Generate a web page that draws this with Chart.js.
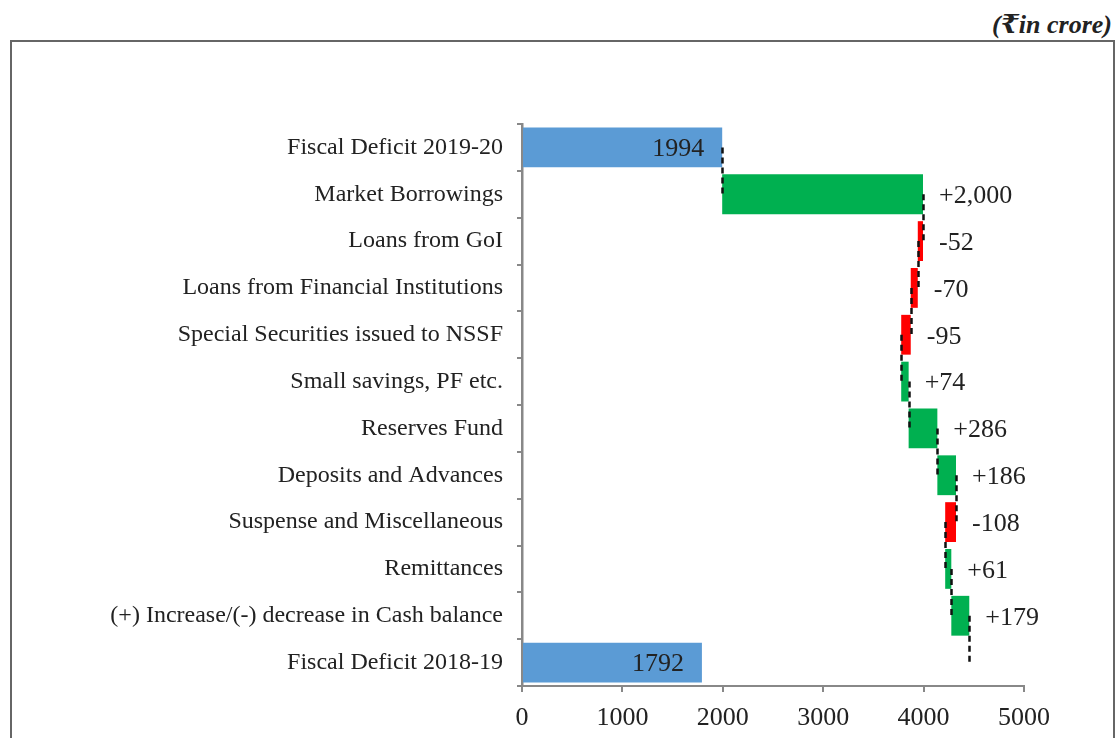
<!DOCTYPE html>
<html>
<head>
<meta charset="utf-8">
<script src="https://cdn.jsdelivr.net/npm/chart.js@4/dist/chart.umd.min.js"></script>
<style>
  html, body { margin: 0; padding: 0; background: #fff; }
  #wrap { position: relative; width: 1115px; height: 738px; overflow: hidden; }
  #frame { position: absolute; left: 10px; top: 40px; width: 1101px; height: 720px; border: 2px solid #666; box-sizing: content-box; }
  #unit { position: absolute; right: 3px; top: 10px; font-family: "Liberation Serif", "DejaVu Serif", serif; font-weight: bold; font-style: italic; font-size: 26px; line-height: 30px; color: #222; }
  canvas { position: absolute; left: 0; top: 0; }
</style>
</head>
<body>
<div id="wrap">
  <div id="frame"></div>
  <div id="unit">(₹in crore)</div>
  <canvas id="c" width="1115" height="738"></canvas>
</div>
<script>
// ---- data ----
const categories = [
  "Fiscal Deficit 2019-20",
  "Market Borrowings",
  "Loans from GoI",
  "Loans from Financial Institutions",
  "Special Securities issued to NSSF",
  "Small savings, PF etc.",
  "Reserves Fund",
  "Deposits and Advances",
  "Suspense and Miscellaneous",
  "Remittances",
  "(+) Increase/(-) decrease in Cash balance",
  "Fiscal Deficit 2018-19"
];
const startTotal = 1994;
const changes = [2000, -52, -70, -95, 74, 286, 186, -108, 61, 179];
const endTotal = 1792;
const xTicks = [0, 1000, 2000, 3000, 4000, 5000];

// ---- build floating bars ----
const totalColor = "#5B9BD5", upColor = "#00B050", downColor = "#FF0000";
const barData = [], barColors = [], barLabels = [], isTotal = [];
barData.push([0, startTotal]); barColors.push(totalColor); barLabels.push(String(startTotal)); isTotal.push(true);
let run = startTotal;
const runEnds = [startTotal];
changes.forEach(v => {
  barData.push([run, run + v]);
  barColors.push(v >= 0 ? upColor : downColor);
  barLabels.push((v >= 0 ? "+" : "-") + Math.abs(v).toLocaleString("en-US"));
  isTotal.push(false);
  run += v;
  runEnds.push(run);
});
barData.push([0, endTotal]); barColors.push(totalColor); barLabels.push(String(endTotal)); isTotal.push(true);

const serif = '"Liberation Serif", "Times New Roman", serif';

const overlay = {
  id: "overlay",
  afterDatasetsDraw(chart) {
    const ctx = chart.ctx;
    const xs = chart.scales.x, ys = chart.scales.y;
    // dashed connectors (center of row i to center of row i+1)
    ctx.save();
    ctx.strokeStyle = "#111";
    ctx.lineWidth = 2.5;
    ctx.setLineDash([6, 4]);
    runEnds.forEach((v, i) => {
      const x = Math.round(xs.getPixelForValue(v)) + 0.5;
      ctx.beginPath();
      ctx.moveTo(x, ys.getPixelForValue(i));
      ctx.lineTo(x, ys.getPixelForValue(i + 1));
      ctx.stroke();
    });
    ctx.restore();
    // value labels
    ctx.save();
    ctx.font = "26px " + serif;
    ctx.fillStyle = "#222";
    ctx.textBaseline = "middle";
    barData.forEach((d, i) => {
      const y = ys.getPixelForValue(i) + 2;
      if (isTotal[i]) {
        ctx.textAlign = "right";
        ctx.fillText(barLabels[i], xs.getPixelForValue(d[1]) - 18, y);
      } else {
        ctx.textAlign = "left";
        ctx.fillText(barLabels[i], xs.getPixelForValue(Math.max(d[0], d[1])) + 16, y);
      }
    });
    ctx.restore();
  }
};

new Chart(document.getElementById("c"), {
  type: "bar",
  data: {
    labels: categories,
    datasets: [{
      data: barData,
      backgroundColor: barColors,
      borderWidth: 0,
      barPercentage: 0.85,
      categoryPercentage: 1.0
    }]
  },
  options: {
    indexAxis: "y",
    responsive: false,
    animation: false,
    layout: { padding: { top: 124, right: 91, bottom: 0, left: 0 } },
    plugins: { legend: { display: false }, tooltip: { enabled: false } },
    scales: {
      x: {
        min: 0, max: 5000,
        afterBuildTicks(scale) { scale.ticks = xTicks.map(v => ({ value: v })); },
        afterFit(scale) { scale.height = 52; },
        grid: { drawOnChartArea: false, drawTicks: true, tickLength: 6, color: "#888", lineWidth: 2 },
        border: { display: true, color: "#888", width: 2 },
        ticks: { color: "#222", font: { family: serif, size: 26 }, padding: 11, maxRotation: 0,
                 callback: (v) => String(v) }
      },
      y: {
        afterFit(scale) { scale.width = 522; },
        grid: { drawOnChartArea: false, drawTicks: true, tickLength: 5, color: "#888", lineWidth: 2, offset: true },
        border: { display: true, color: "#888", width: 2.5 },
        ticks: { color: "#222", font: { family: serif, size: 24 }, padding: 14, autoSkip: false }
      }
    }
  },
  plugins: [overlay]
});
</script>
</body>
</html>
